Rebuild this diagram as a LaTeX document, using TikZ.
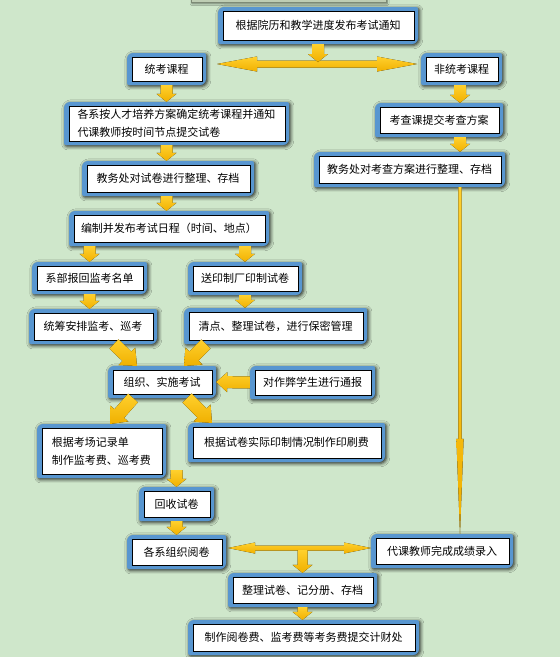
\documentclass[tikz,border=0pt]{standalone}
\usepackage{fontspec}
\newfontfamily\cjk{Noto Sans CJK SC}
\usetikzlibrary{shadows.blur,calc}
\definecolor{bgc}{RGB}{207,231,203}
\definecolor{bluec}{RGB}{88,150,208}
\definecolor{arrtop}{RGB}{255,208,45}
\definecolor{arrbot}{RGB}{240,176,0}
\definecolor{stripc}{RGB}{190,205,180}
\definecolor{stripd}{RGB}{125,138,118}
\tikzset{
  outerb/.style={fill=bluec, blur shadow={shadow xshift=1.3pt, shadow yshift=-1.3pt, shadow blur radius=3.5pt, shadow opacity=85}},
  innerb/.style={fill=white, draw=black, line width=0.9pt},
  txt/.style={inner sep=0pt, font=\cjk\fontsize{11}{18}\selectfont, align=center},
  arrowf/.style={top color=arrtop, bottom color=arrbot, draw=none},
}
% optional opts, name, x1, y1, x2, y2, text
\newcommand\flowbox[7][]{%
  \fill[outerb] (#3,{(#4+#6)/2}) [rounded corners=6pt] -- (#3,#4) [rounded corners=2pt] -- (#5,#4) [rounded corners=6pt] -- (#5,#6) [rounded corners=2pt] -- (#3,#6) -- cycle;
  \filldraw[innerb] (#3+5,#4+4.5) rectangle (#5-4,#6-4);
  \node[txt, minimum width={#5-#3}, minimum height={#6-#4}, #1] (#2) at ({(#3+#5)/2},{(#4+#6)/2}) {#7};
}
\newcommand\arrowprep[2]{%
  \path #1 coordinate (basA) #2 coordinate (basB);
  \pgfmathanglebetweenpoints{\pgfpointanchor{basA}{center}}{\pgfpointanchor{basB}{center}}%
  \let\baang\pgfmathresult
  \pgfpointdiff{\pgfpointanchor{basA}{center}}{\pgfpointanchor{basB}{center}}%
  \pgfgetlastxy{\badx}{\bady}%
  \pgfmathsetmacro\balen{veclen(\badx,\bady)}%
}
% start, end, shaft half, head half, head length
\newcommand\barrow[5]{%
  \arrowprep{#1}{#2}%
  \fill[arrowf, shift={(basA)}, rotate=\baang] (0,-#3) -- (\balen-#5,-#3) -- (\balen-#5,-#4) -- (\balen,0) -- (\balen-#5,#4) -- (\balen-#5,#3) -- (0,#3) -- cycle;
}
\newcommand\dbarrow[5]{%
  \arrowprep{#1}{#2}%
  \fill[arrowf, shift={(basA)}, rotate=\baang] (0,0) -- (#5,-#4) -- (#5,-#3) -- (\balen-#5,-#3) -- (\balen-#5,-#4) -- (\balen,0) -- (\balen-#5,#4) -- (\balen-#5,#3) -- (#5,#3) -- (#5,#4) -- cycle;
}
\begin{document}
\begin{tikzpicture}[x=1pt,y=-1pt]
\useasboundingbox (0,0) rectangle (560,657);
\fill[bgc] (0,0) rectangle (560,657);
% partial box at the top edge
\filldraw[fill=stripc, draw=stripd, line width=0.8pt, blur shadow={shadow xshift=1pt, shadow yshift=-1pt, shadow blur radius=2pt, shadow opacity=60}] (191,-6) rectangle (386,2.5);

\flowbox{n1}{218}{7}{418}{44}{根据院历和教学进度发布考试通知}
\flowbox{n2}{127}{53}{206}{85}{统考课程}
\flowbox{n3}{421}{53}{502}{85}{非统考课程}
\flowbox[align=left]{n4}{64}{102}{289}{145}{各系按人才培养方案确定统考课程并通知\\代课教师按时间节点提交试卷}
\flowbox{n5}{375}{103}{503}{137}{考查课提交考查方案}
\flowbox{n6}{82}{161}{254}{196}{教务处对试卷进行整理、存档}
\flowbox{n7}{314}{152}{505}{187}{教务处对考查方案进行整理、存档}
\flowbox{n8}{69}{211}{269}{246}{编制并发布考试日程（时间、地点）}
\flowbox{n9}{32}{262}{147}{294}{系部报回监考名单}
\flowbox{n10}{188}{262}{302}{295}{送印制厂印制试卷}
\flowbox{n11}{29}{309}{157}{344}{统筹安排监考、巡考}
\flowbox{n12}{184}{308}{367}{344}{清点、整理试卷，进行保密管理}
\flowbox{n13}{108}{366}{216}{398}{组织、实施考试}
\flowbox{n14}{250}{366}{375}{399}{对作弊学生进行通报}
\flowbox[align=left]{n15}{37}{424}{166}{478}{根据考场记录单\\制作监考费、巡考费}
\flowbox{n16}{188}{423}{385}{462}{根据试卷实际印制情况制作印刷费}
\flowbox{n17}{139}{487}{214}{521}{回收试卷}
\flowbox{n18}{127}{535}{226}{569}{各系组织阅卷}
\flowbox{n19}{371}{534}{513}{568}{代课教师完成成绩录入}
\flowbox{n20}{228}{573}{377}{607}{整理试卷、记分册、存档}
\flowbox{n21}{188}{620}{419}{655}{制作阅卷费、监考费等考务费提交计财处}

% free ends of connectors
\coordinate (d1l) at (217,64);
\coordinate (d1r) at (417,64);
\coordinate (j1) at (318,62);
\coordinate (r1) at (460,85);
\coordinate (s11) at (114,344);
\coordinate (e11) at (137,366);
\coordinate (s12) at (206,344);
\coordinate (e12) at (184,366);
\coordinate (s14) at (133,398);
\coordinate (e14) at (110,424);
\coordinate (s15) at (187,398);
\coordinate (e15) at (212,423);
\coordinate (s16) at (176.5,470);
\coordinate (d2l) at (228,548);
\coordinate (d2r) at (371,548);
\coordinate (j2) at (302.5,550);

\dbarrow{(d1l)}{(d1r)}{3.5}{7.5}{40}
\barrow{(n1.south)}{(j1)}{6}{10}{8}
\barrow{(n2.south)}{(n2.south |- n4.north)}{6}{10}{8}
\barrow{(r1)}{(r1 |- n5.north)}{6}{10}{8}
\barrow{(r1 |- n5.south)}{(r1 |- n7.north)}{6}{10}{8}
\barrow{(n2.south |- n4.south)}{(n2.south |- n6.north)}{6}{10}{8}
\barrow{(n2.south |- n6.south)}{(n2.south |- n8.north)}{6}{10}{8}
\barrow{(n9.north |- n8.south)}{(n9.north)}{6}{10}{8}
\barrow{(n10.north |- n8.south)}{(n10.north)}{6}{10}{8}
\barrow{(n9.south)}{(n9.south |- n11.north)}{6}{10}{8}
\barrow{(n10.south)}{(n10.south |- n12.north)}{6}{10}{8}
\barrow{(s11)}{(e11)}{6.5}{12}{14}
\barrow{(s12)}{(e12)}{6.5}{12}{14}
\barrow{(n14.west)}{(n13.east)}{6}{10}{11}
\barrow{(s14)}{(e14)}{6.5}{12}{14}
\barrow{(s15)}{(e15)}{6.5}{12}{14}
\barrow{(s16)}{(n17.north)}{6}{10}{8}
\barrow{(n17.south)}{(n18.north)}{6}{10}{8}
\dbarrow{(d2l)}{(d2r)}{2.5}{5.5}{27}
\barrow{(j2)}{(n20.north)}{5}{10}{8}
\barrow{(n20.south)}{(n20.south |- n21.north)}{5}{10}{8}
\barrow{(r1 |- n7.south)}{(r1 |- n19.north)}{1.6}{3.6}{95}
\end{tikzpicture}
\end{document}
